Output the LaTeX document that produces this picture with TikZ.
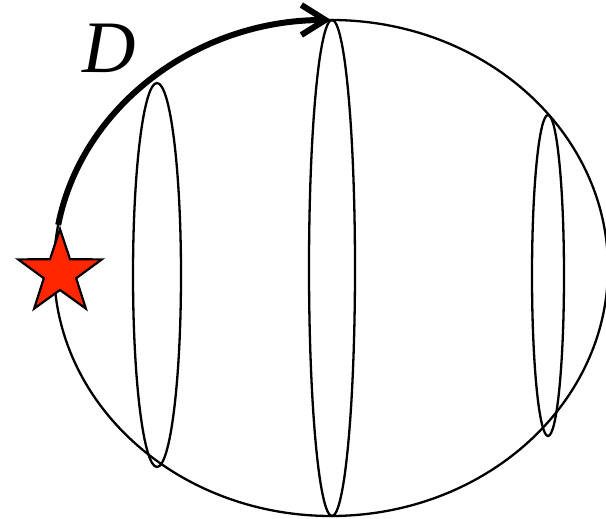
\documentclass[tikz,border=0pt]{standalone}
\usepackage{fontspec}
\setmainfont{Liberation Serif}
\usetikzlibrary{arrows.meta,calc}
\definecolor{starred}{RGB}{255,38,0}
\tikzset{
  thinline/.style={line width=2.3pt, black},
  patharc/.style={line width=6pt, black, -{Straight Barb[length=24pt,width=30pt]}},
}
\begin{document}
\begin{tikzpicture}[x=1pt,y=1pt]
\useasboundingbox (0,0) rectangle (606,519);
\coordinate (ctr) at (331,251);
% big sphere outline
\draw[thinline] (ctr) ellipse [x radius=277, y radius=248];
% latitude ellipses
\draw[thinline] (157,244) ellipse [x radius=24, y radius=192];
\draw[thinline] (332,251) ellipse [x radius=23, y radius=248];
\draw[thinline] (548,243.5) ellipse [x radius=16, y radius=160.5];
% thick path D
\draw[patharc] (ctr) ++(170:277 and 248) arc[start angle=170, end angle=90, x radius=277, y radius=248];
% star
\coordinate (starc) at (60,246);
\filldraw[fill=starred, draw=black, line width=2.2pt, line join=miter]
  ($(starc)+(90:44)$) -- ($(starc)+(126:17)$) -- ($(starc)+(162:44)$) -- ($(starc)+(198:17)$)
  -- ($(starc)+(234:44)$) -- ($(starc)+(270:17)$) -- ($(starc)+(306:44)$) -- ($(starc)+(342:17)$)
  -- ($(starc)+(18:44)$) -- ($(starc)+(54:17)$) -- cycle;
\node[font=\fontsize{74}{74}\selectfont\itshape, inner sep=0] (lab) at (109,471) {D};
\end{tikzpicture}
\end{document}
